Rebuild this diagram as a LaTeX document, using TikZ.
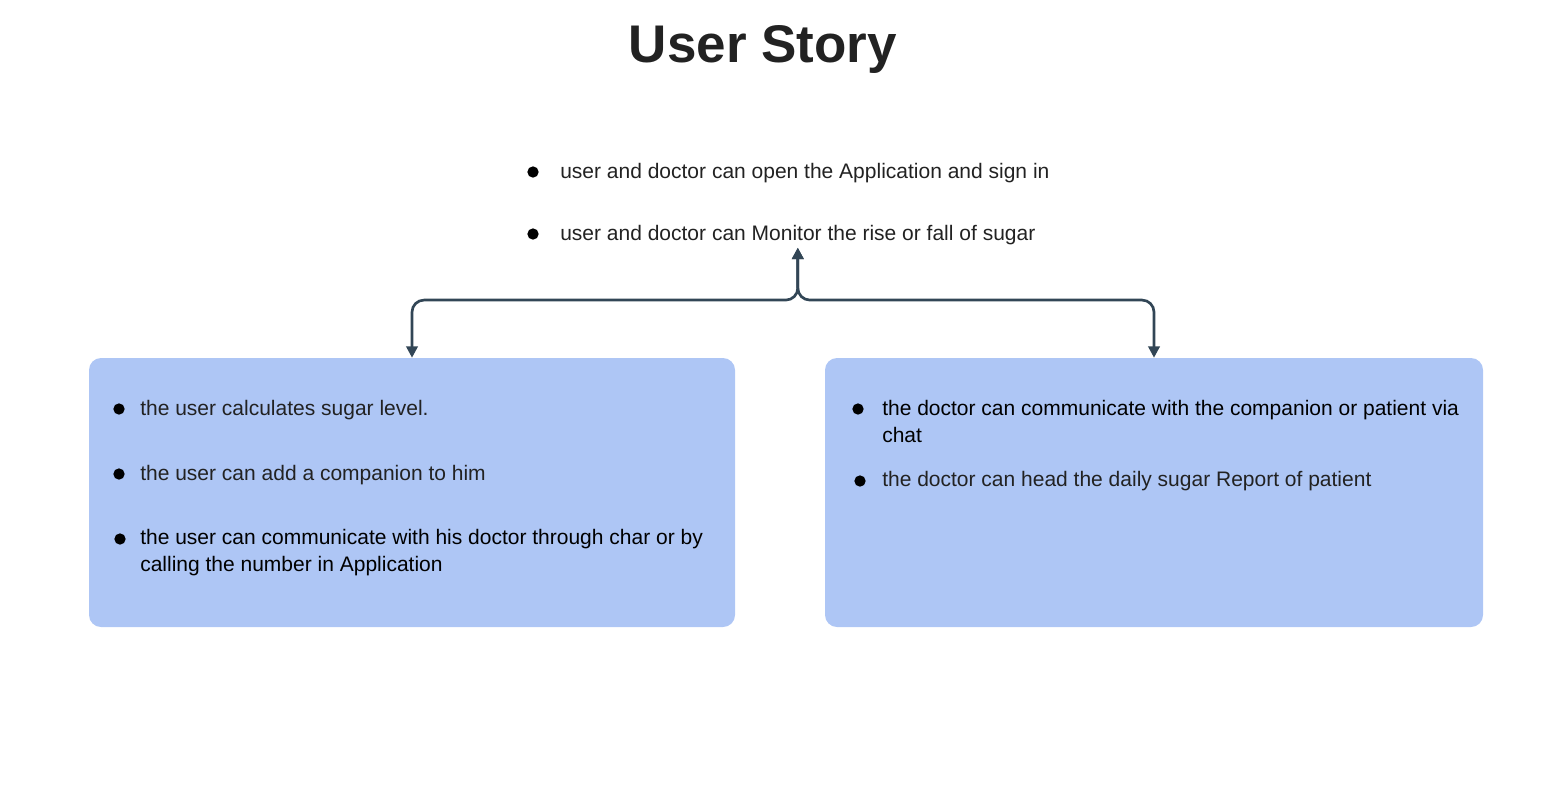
\documentclass[tikz,border=0pt]{standalone}
\usepackage{fontspec}
\setmainfont{Liberation Sans}
\usetikzlibrary{arrows.meta, positioning, calc}
\definecolor{storyink}{RGB}{34, 34, 34}
\definecolor{boxblue}{RGB}{174, 198, 245}
\definecolor{linkslate}{RGB}{50, 70, 86}

\begin{document}
\begin{tikzpicture}[x=0.75pt, y=-0.75pt,
  item/.style={anchor=west, inner sep=0pt, text=storyink, align=left, font=\fontsize{15.75}{20.25}\selectfont},
  bulletdot/.style={circle, fill=black, inner sep=0pt, minimum size=8.5pt},
  storybox/.style={fill=boxblue, rounded corners=9pt, inner sep=0pt, minimum height=201.75pt},
  link/.style={draw=linkslate, line width=2pt, rounded corners=9pt, <->, >={Triangle[length=8.5pt, width=8.5pt]}}]
  \useasboundingbox (0, 0) rectangle (1562, 786);

  % Title
  \node[font=\fontsize{39.75}{48}\selectfont\bfseries, text=storyink] (title) at (763, 49) {User Story};

  % Shared stories
  \node[bulletdot] (d1) at (533, 172) {};
  \node[item] (open) at (560, 173) {user and doctor can open the Application and sign in};
  \node[bulletdot] (d2) at (533, 234) {};
  \node[item] (mon) at (560, 235) {user and doctor can Monitor the rise or fall of sugar};

  % User box
  \node[storybox, minimum width=484.5pt] (userbox) at (412, 492.5) {};
  \node[bulletdot] (u1) at (119, 409) {};
  \node[item] (calc) at (140, 410) {the user calculates sugar level.};
  \node[bulletdot] (u2) at (119, 474) {};
  \node[item] (comp) at (140, 475) {the user can add a companion to him};
  \node[bulletdot] (u3) at (120, 539) {};
  \node[item, anchor=north west, text=black] (call) at (140, 529) {the user can communicate with his doctor through char or by\\calling the number in Application};

  % Doctor box
  \node[storybox, minimum width=493.5pt] (docbox) at (1154, 492.5) {};
  \node[bulletdot] (r1) at (858, 409) {};
  \node[item, anchor=north west, text=black] (chat) at (882, 400) {the doctor can communicate with the companion or patient via\\chat};
  \node[bulletdot] (r2) at (860, 481) {};
  \node[item] (report) at (882, 481) {the doctor can head the daily sugar Report of patient};

  % Links
  \coordinate (fork) at ($(mon.south) + (0, 55)$);
  \draw[link, shorten <=2pt] (mon.south) -- (fork) -| (userbox.north);
  \draw[link, shorten <=2pt] (mon.south) -- (fork) -| (docbox.north);
\end{tikzpicture}
\end{document}
